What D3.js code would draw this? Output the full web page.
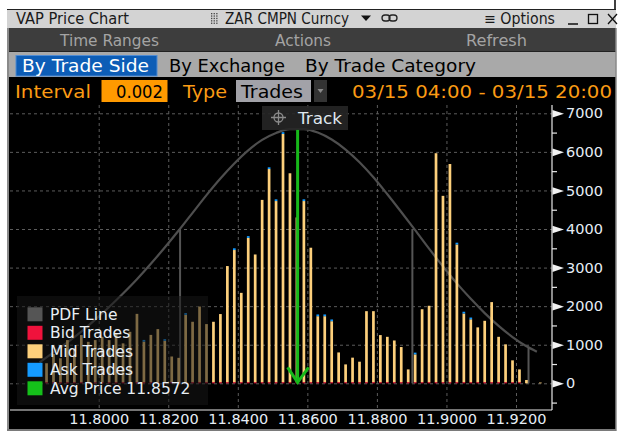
<!DOCTYPE html>
<html><head><meta charset="utf-8">
<script src="https://cdn.jsdelivr.net/npm/d3@7"></script>
<style>
html,body{margin:0;padding:0;background:#fff;}
svg{display:block;}
text{font-family:"DejaVu Sans",sans-serif;}
</style></head>
<body>
<svg id="c" width="621" height="431"></svg>
<script>
// ---------- data ----------
const prices = [11.785,11.787,11.789,11.791,11.793,11.795,11.797,11.799,11.801,11.803,11.805,11.807,11.809,
11.811,11.813,11.815,11.817,11.819,11.821,11.823,11.825,11.827,11.829,11.831,11.833,11.835,11.837,11.839,
11.841,11.843,11.845,11.847,11.849,11.851,11.853,11.855,11.857,11.859,11.861,11.863,11.865,11.867,11.869,
11.871,11.873,11.875,11.877,11.879,11.881,11.883,11.885,11.887,11.889,11.891,11.893,11.895,11.897,11.899,
11.901,11.903,11.905,11.907,11.909,11.911,11.913,11.915,11.917,11.919,11.921,11.923,11.925,11.927];
const bidTrades = [30,30,30,30,30,30,30,30,30,30,30,30,30,
30,30,30,30,30,30,30,30,30,30,30,30,30,30,30,
30,30,30,30,30,30,30,30,30,30,30,30,30,30,30,
30,30,30,30,30,30,30,30,30,30,30,30,30,30,30,
30,30,30,30,30,30,30,30,30,30,30,0,0,0];
const midTrades = [490,730,620,1090,875,1220,1045,1090,1175,1090,1265,1005,1305,
1770,1050,1225,1375,1070,665,630,1745,1565,1960,1505,1565,1765,3010,3425,
2315,3740,3310,4725,5525,4695,6435,5415,4270,4695,3485,1710,1710,1580,770,
460,635,530,1840,1840,1220,1175,1080,910,330,720,1890,1980,5935,4830,
5655,3570,1780,1630,1420,1590,2075,1175,980,565,330,86,0,20];
const askTrades = [0,0,0,0,0,0,0,0,0,0,0,0,0,
0,45,0,0,45,0,0,45,0,0,0,0,0,0,45,
0,45,0,0,45,45,45,0,0,45,0,45,45,45,0,
0,0,0,0,0,0,0,0,0,0,45,0,0,0,0,
0,45,45,45,0,0,0,0,0,0,0,0,0,0];
const pdfPrices = [11.783,11.787,11.791,11.795,11.799,11.803,11.807,11.811,11.815,11.819,11.823,11.827,11.831,
11.835,11.839,11.843,11.847,11.851,11.855,11.859,11.863,11.867,11.871,11.875,11.879,11.883,11.887,11.891,
11.895,11.899,11.903,11.907,11.911,11.915,11.919,11.923,11.926];
const pdfValues = [540,800,1060,1340,1650,1980,2330,2700,3100,3520,3960,4420,4880,
5310,5700,6040,6310,6490,6590,6590,6500,6320,6060,5730,5340,4900,4440,3970,
3490,3030,2590,2190,1820,1490,1200,960,820];
const sigmaPrices = [11.8234,11.8902,11.9236];
const sigmaValues = [3975,4000,930];
const avgPrice = 11.8572;
const avgTop = 6590;
const xTicks = [11.80,11.82,11.84,11.86,11.88,11.90,11.92];
const yTicks = [0,1000,2000,3000,4000,5000,6000,7000];
const yMinor = [-500,500,1500,2500,3500,4500,5500,6500];
const legendItems = ["PDF Line","Bid Trades","Mid Trades","Ask Trades","Avg Price 11.8572"];
const legendColors = ["#555555","#f0123c","#fdd07c","#159bff","#15c01a"];

// ---------- layout ----------
const svg = d3.select("#c");
const W = 621, H = 431;
const plotL = 10, plotR = 552, plotT = 105, plotB = 410;
const x = d3.scaleLinear().domain([11.80, 11.92]).range([98.7, 516]);
const y = d3.scaleLinear().domain([0, 7000]).range([383.3, 113.3]);

// background + window
svg.append("rect").attr("width",W).attr("height",H).attr("fill","#fff");
svg.append("rect").attr("x",7).attr("y",9.5).attr("width",609).attr("height",421.5).attr("fill","#000");
svg.append("line").attr("x1",615).attr("x2",615).attr("y1",0).attr("y2",10).attr("stroke","#000").attr("stroke-width",1.5);

// title bar
svg.append("rect").attr("x",7).attr("y",9.5).attr("width",609).attr("height",18.5).attr("fill","#d3d3d3");
svg.append("line").attr("x1",7).attr("x2",616).attr("y1",9.5).attr("y2",9.5).attr("stroke","#222");
function txt(g, s, xx, yy, opts){
  const t = g.append("text").attr("x",xx).attr("y",yy).text(s)
    .attr("font-size",opts.size||15).attr("fill",opts.fill||"#000");
  if(opts.anchor) t.attr("text-anchor",opts.anchor);
  if(opts.len) t.attr("textLength",opts.len).attr("lengthAdjust","spacingAndGlyphs");
  if(opts.family) t.style("font-family",opts.family);
  return t;
}
const tb = svg.append("g");
txt(tb,"VAP Price Chart",16,24,{size:15,fill:"#1a1a1a",len:113});
// grip
for(let i=0;i<3;i++) for(let j=0;j<5;j++)
  tb.append("rect").attr("x",211+i*2.6).attr("y",13+j*2.4).attr("width",1.3).attr("height",1.3).attr("fill","#444");
txt(tb,"ZAR CMPN Curncy",225,24,{size:15,fill:"#1a1a1a",len:124});
tb.append("path").attr("d","M361,15.5 L371,15.5 L366,21 Z").attr("fill","#111");
tb.append("rect").attr("x",382).attr("y",15).attr("width",8).attr("height",6).attr("rx",3).attr("fill","none").attr("stroke","#222").attr("stroke-width",1.3);
tb.append("rect").attr("x",389).attr("y",15).attr("width",8).attr("height",6).attr("rx",3).attr("fill","none").attr("stroke","#222").attr("stroke-width",1.3);
txt(tb,"\u2261 Options",484,24,{size:15,fill:"#1a1a1a",len:71});
tb.append("line").attr("x1",568).attr("x2",578).attr("y1",24).attr("y2",24).attr("stroke","#111").attr("stroke-width",1.5);
tb.append("rect").attr("x",588.5).attr("y",14.5).attr("width",9).attr("height",9).attr("fill","none").attr("stroke","#111").attr("stroke-width",1.3);
tb.append("path").attr("d","M608,14 L617,24 M617,14 L608,24").attr("stroke","#111").attr("stroke-width",1.3);

// dark bar
svg.append("rect").attr("x",7).attr("y",28).attr("width",609).attr("height",24).attr("fill","#3d3d3d");
svg.append("line").attr("x1",7).attr("x2",616).attr("y1",51.5).attr("y2",51.5).attr("stroke","#222");
txt(svg,"Time Ranges",60,46,{size:16,fill:"#a4a4a4",len:99});
txt(svg,"Actions",275,46,{size:16,fill:"#a4a4a4",len:56});
txt(svg,"Refresh",466,46,{size:16,fill:"#a4a4a4",len:61});

// tabs bar
svg.append("rect").attr("x",7).attr("y",52).attr("width",609).attr("height",25).attr("fill","#a9a9a9");
svg.append("rect").attr("x",16).attr("y",55.5).attr("width",141).attr("height",20.5).attr("fill","#0d5db6").attr("stroke","#4f8bd3");
txt(svg,"By Trade Side",22,72,{size:18,fill:"#fff",len:127});
txt(svg,"By Exchange",169,72,{size:18,fill:"#000",len:116});
txt(svg,"By Trade Category",305,72,{size:18,fill:"#000",len:171});

// interval row
const orange = "#fb9b14";
txt(svg,"Interval",15,98,{size:18,fill:orange,len:76});
svg.append("rect").attr("x",101.5).attr("y",80).attr("width",66).attr("height",22).attr("fill","#ff9a00");
txt(svg,"0.002",163,98,{size:18,fill:"#000",anchor:"end",len:47});
txt(svg,"Type",183,98,{size:18,fill:orange,len:44});
svg.append("rect").attr("x",236).attr("y",80).attr("width",75).attr("height",22).attr("fill","#a2a2a8");
txt(svg,"Trades",241,98,{size:18,fill:"#000",len:62});
svg.append("rect").attr("x",314).attr("y",80).attr("width",13).attr("height",22).attr("fill","#333");
svg.append("path").attr("d","M317.5,89 L323.5,89 L320.5,93 Z").attr("fill","#8a8a8a");
txt(svg,"03/15 04:00 - 03/15 20:00",352,98,{size:18,fill:orange,len:260});

// frame lines
svg.append("line").attr("x1",8).attr("x2",8).attr("y1",28).attr("y2",431).attr("stroke","#8a8a8a").attr("stroke-width",2);
svg.append("line").attr("x1",616).attr("x2",616).attr("y1",28).attr("y2",431).attr("stroke","#8a8a8a").attr("stroke-width",1.5);
svg.append("line").attr("x1",7).attr("x2",616).attr("y1",430).attr("y2",430).attr("stroke","#7a7a7a").attr("stroke-width",2);

// ---------- plot ----------
const plot = svg.append("g");
// grid
const gy = plot.append("g").attr("transform",`translate(${plotL},0)`)
  .call(d3.axisRight(y).tickValues(yTicks).tickSize(plotR-plotL).tickFormat(""));
gy.select(".domain").remove();
gy.selectAll("line").attr("stroke","#5c5c5c").attr("stroke-dasharray","3,3");
const gx = plot.append("g").attr("transform",`translate(0,${plotT})`)
  .call(d3.axisBottom(x).tickValues(xTicks).tickSize(plotB-plotT).tickFormat(""));
gx.select(".domain").remove();
gx.selectAll("line").attr("stroke","#5c5c5c").attr("stroke-dasharray","3,3");

// PDF line
const pdfData = pdfPrices.map((p,i)=>({p, v:pdfValues[i]}));
plot.append("path").datum(pdfData)
  .attr("d", d3.line().x(d=>x(d.p)).y(d=>y(d.v)).curve(d3.curveMonotoneX))
  .attr("fill","none").attr("stroke","#4e4e4e").attr("stroke-width",2.2);
// sigma markers
plot.selectAll(".sig").data(sigmaPrices.map((p,i)=>({p,v:sigmaValues[i]}))).join("line")
  .attr("x1",d=>x(d.p)).attr("x2",d=>x(d.p)).attr("y1",d=>y(d.v)).attr("y2",y(0))
  .attr("stroke","#555").attr("stroke-width",2);

// bars
const rows = prices.map((p,i)=>({p, bid:bidTrades[i], mid:midTrades[i], ask:askTrades[i]}));
const stack = d3.stack().keys(["bid","mid","ask"])(rows);
const colors = {bid:"#f0123c", mid:"#fdd07c", ask:"#159bff"};
const bw = 2.7;
plot.selectAll(".layer").data(stack).join("g").attr("fill",d=>colors[d.key])
  .selectAll("rect").data(d=>d.filter(s=>s[1]-s[0]>0)).join("rect")
  .attr("x",d=>x(d.data.p)-bw/2).attr("width",bw)
  .attr("y",d=>y(d[1])).attr("height",d=>Math.max(0.5,y(d[0])-y(d[1])));

// avg price line with arrow
const ax = x(avgPrice);
plot.append("line").attr("x1",ax).attr("x2",ax).attr("y1",y(avgTop)).attr("y2",y(0))
  .attr("stroke","#17b81a").attr("stroke-width",3);
plot.append("path").attr("d",`M${ax-10},${y(0)-16} L${ax},${y(0)-1} L${ax+11},${y(0)-16}`)
  .attr("fill","none").attr("stroke","#17b81a").attr("stroke-width",3);

// Track button
const tr = svg.append("g");
tr.append("rect").attr("x",262).attr("y",106).attr("width",86).attr("height",24).attr("fill","rgba(38,38,38,0.9)");
tr.append("circle").attr("cx",278.5).attr("cy",117.5).attr("r",4.5).attr("fill","none").attr("stroke","#8a8a8a").attr("stroke-width",1.3);
tr.append("path").attr("d","M278.5,110 V125 M271,117.5 H286").attr("stroke","#8a8a8a").attr("stroke-width",1.3);
txt(tr,"Track",298,123.5,{size:15.5,fill:"#dfe7ee",len:44});

// legend
const lg = svg.append("g");
lg.append("rect").attr("x",17).attr("y",296).attr("width",191).attr("height",109).attr("fill","rgba(22,22,22,0.55)");
legendItems.forEach((s,i)=>{
  const cy = 314.3 + i*18.5;
  lg.append("rect").attr("x",27.5).attr("y",cy-7).attr("width",15).attr("height",14).attr("fill",legendColors[i]);
  const t = txt(lg,s,50,cy+5.5,{size:15.5,fill:"#e8eef3"});
});

// y axis
const ya = svg.append("g").attr("transform",`translate(${plotR},0)`);
ya.append("line").attr("x1",0).attr("x2",0).attr("y1",plotT).attr("y2",plotB).attr("stroke","#e8e8e8").attr("stroke-width",1.2);
const yMin = ya.append("g").call(d3.axisRight(y).tickValues(yMinor).tickSize(5).tickFormat(""));
yMin.select(".domain").remove();
yMin.selectAll("line").attr("stroke","#e8e8e8").attr("stroke-width",1.2);
const yMaj = ya.append("g").call(d3.axisRight(y).tickValues(yTicks).tickSize(0).tickPadding(14).tickFormat(d3.format("d")));
yMaj.select(".domain").remove();
yMaj.selectAll("text").attr("font-size",14.5).attr("fill","#e6eef6").style("font-family","DejaVu Sans");
yMaj.selectAll(".tick").append("path").attr("d","M0.5,-3.8 L12,0 L0.5,3.8 Z").attr("fill","#f2f2f2");

// x axis
svg.append("line").attr("x1",plotL).attr("x2",plotR).attr("y1",plotB).attr("y2",plotB).attr("stroke","#e8e8e8").attr("stroke-width",1.2);
const xa = svg.append("g").attr("transform",`translate(0,${plotB})`)
  .call(d3.axisBottom(x).tickValues(xTicks).tickSize(0).tickPadding(4).tickFormat(d3.format(".4f")));
xa.select(".domain").remove();
xa.selectAll("text").attr("font-size",14.5).attr("fill","#e6eef6").style("font-family","DejaVu Sans");
</script>
</body></html>
